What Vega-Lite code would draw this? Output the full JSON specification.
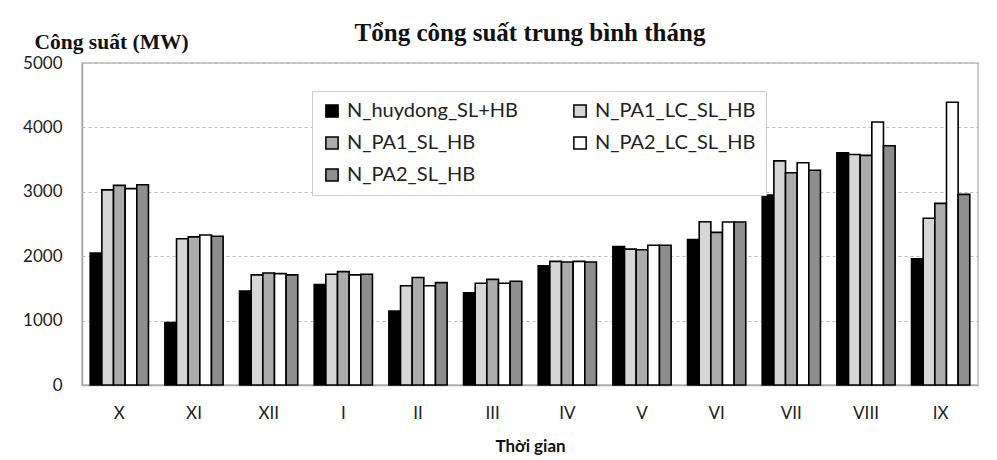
{
  "$schema": "https://vega.github.io/schema/vega-lite/v6.json",
  "width": 896,
  "height": 322,
  "autosize": {"type": "none"},
  "padding": {"left": 82, "top": 63, "right": 19, "bottom": 75},
  "background": "white",
  "title": {
    "text": "Tổng công suất trung bình tháng",
    "font": "Liberation Serif",
    "fontSize": 25,
    "fontWeight": "bold",
    "color": "#111",
    "anchor": "middle",
    "offset": -15
  },
  "data": {
    "values": [
      {"month": "X", "series": "N_huydong_SL+HB", "value": 2050},
      {"month": "X", "series": "N_PA1_LC_SL_HB", "value": 3030},
      {"month": "X", "series": "N_PA1_SL_HB", "value": 3100},
      {"month": "X", "series": "N_PA2_LC_SL_HB", "value": 3050},
      {"month": "X", "series": "N_PA2_SL_HB", "value": 3110},
      {"month": "XI", "series": "N_huydong_SL+HB", "value": 970},
      {"month": "XI", "series": "N_PA1_LC_SL_HB", "value": 2270},
      {"month": "XI", "series": "N_PA1_SL_HB", "value": 2300},
      {"month": "XI", "series": "N_PA2_LC_SL_HB", "value": 2330},
      {"month": "XI", "series": "N_PA2_SL_HB", "value": 2310},
      {"month": "XII", "series": "N_huydong_SL+HB", "value": 1460},
      {"month": "XII", "series": "N_PA1_LC_SL_HB", "value": 1710},
      {"month": "XII", "series": "N_PA1_SL_HB", "value": 1740},
      {"month": "XII", "series": "N_PA2_LC_SL_HB", "value": 1730},
      {"month": "XII", "series": "N_PA2_SL_HB", "value": 1710},
      {"month": "I", "series": "N_huydong_SL+HB", "value": 1560},
      {"month": "I", "series": "N_PA1_LC_SL_HB", "value": 1720},
      {"month": "I", "series": "N_PA1_SL_HB", "value": 1760},
      {"month": "I", "series": "N_PA2_LC_SL_HB", "value": 1710},
      {"month": "I", "series": "N_PA2_SL_HB", "value": 1720},
      {"month": "II", "series": "N_huydong_SL+HB", "value": 1150},
      {"month": "II", "series": "N_PA1_LC_SL_HB", "value": 1540},
      {"month": "II", "series": "N_PA1_SL_HB", "value": 1670},
      {"month": "II", "series": "N_PA2_LC_SL_HB", "value": 1540},
      {"month": "II", "series": "N_PA2_SL_HB", "value": 1590},
      {"month": "III", "series": "N_huydong_SL+HB", "value": 1430},
      {"month": "III", "series": "N_PA1_LC_SL_HB", "value": 1580},
      {"month": "III", "series": "N_PA1_SL_HB", "value": 1640},
      {"month": "III", "series": "N_PA2_LC_SL_HB", "value": 1580},
      {"month": "III", "series": "N_PA2_SL_HB", "value": 1610},
      {"month": "IV", "series": "N_huydong_SL+HB", "value": 1850},
      {"month": "IV", "series": "N_PA1_LC_SL_HB", "value": 1920},
      {"month": "IV", "series": "N_PA1_SL_HB", "value": 1910},
      {"month": "IV", "series": "N_PA2_LC_SL_HB", "value": 1920},
      {"month": "IV", "series": "N_PA2_SL_HB", "value": 1910},
      {"month": "V", "series": "N_huydong_SL+HB", "value": 2150},
      {"month": "V", "series": "N_PA1_LC_SL_HB", "value": 2110},
      {"month": "V", "series": "N_PA1_SL_HB", "value": 2100},
      {"month": "V", "series": "N_PA2_LC_SL_HB", "value": 2170},
      {"month": "V", "series": "N_PA2_SL_HB", "value": 2170},
      {"month": "VI", "series": "N_huydong_SL+HB", "value": 2260},
      {"month": "VI", "series": "N_PA1_LC_SL_HB", "value": 2535},
      {"month": "VI", "series": "N_PA1_SL_HB", "value": 2370},
      {"month": "VI", "series": "N_PA2_LC_SL_HB", "value": 2530},
      {"month": "VI", "series": "N_PA2_SL_HB", "value": 2530},
      {"month": "VII", "series": "N_huydong_SL+HB", "value": 2950},
      {"month": "VII", "series": "N_PA1_LC_SL_HB", "value": 3480},
      {"month": "VII", "series": "N_PA1_SL_HB", "value": 3295},
      {"month": "VII", "series": "N_PA2_LC_SL_HB", "value": 3450},
      {"month": "VII", "series": "N_PA2_SL_HB", "value": 3335},
      {"month": "VIII", "series": "N_huydong_SL+HB", "value": 3605},
      {"month": "VIII", "series": "N_PA1_LC_SL_HB", "value": 3580},
      {"month": "VIII", "series": "N_PA1_SL_HB", "value": 3565},
      {"month": "VIII", "series": "N_PA2_LC_SL_HB", "value": 4085},
      {"month": "VIII", "series": "N_PA2_SL_HB", "value": 3715},
      {"month": "IX", "series": "N_huydong_SL+HB", "value": 1960},
      {"month": "IX", "series": "N_PA1_LC_SL_HB", "value": 2590},
      {"month": "IX", "series": "N_PA1_SL_HB", "value": 2820},
      {"month": "IX", "series": "N_PA2_LC_SL_HB", "value": 4390},
      {"month": "IX", "series": "N_PA2_SL_HB", "value": 2960}
    ]
  },
  "mark": {"type": "bar", "stroke": "#000", "strokeWidth": 1.6},
  "encoding": {
    "x": {
      "field": "month",
      "type": "nominal",
      "sort": ["X", "XI", "XII", "I", "II", "III", "IV", "V", "VI", "VII", "VIII", "IX"],
      "scale": {"paddingInner": 0.22, "paddingOuter": 0.11},
      "axis": {
        "title": "Thời gian",
        "titleFont": "Lato",
        "titleFontSize": 17,
        "titleFontWeight": "bold",
        "titleColor": "#111",
        "titlePadding": 17,
        "labelAngle": 0,
        "labelFont": "Lato",
        "labelFontSize": 17,
        "labelColor": "#222",
        "labelPadding": 20,
        "ticks": false,
        "domainColor": "#aaa",
        "domainWidth": 1.5,
        "grid": false
      }
    },
    "xOffset": {
      "field": "series",
      "type": "nominal",
      "sort": ["N_huydong_SL+HB", "N_PA1_LC_SL_HB", "N_PA1_SL_HB", "N_PA2_LC_SL_HB", "N_PA2_SL_HB"]
    },
    "y": {
      "field": "value",
      "type": "quantitative",
      "scale": {"domain": [0, 5000], "nice": false},
      "axis": {
        "title": "Công suất (MW)",
        "titleFont": "Liberation Serif",
        "titleFontSize": 21.5,
        "titleFontWeight": "bold",
        "titleColor": "#111",
        "titleAngle": 0,
        "titleAlign": "left",
        "titleBaseline": "bottom",
        "titleX": -48,
        "titleY": -10,
        "values": [0, 1000, 2000, 3000, 4000, 5000],
        "format": "d",
        "labelFont": "Lato",
        "labelFontSize": 17,
        "labelColor": "#222",
        "labelPadding": 20,
        "ticks": false,
        "domainColor": "#aaa",
        "domainWidth": 1.5,
        "grid": true,
        "gridColor": "#bbb",
        "gridDash": [3, 3],
        "gridWidth": 1
      }
    },
    "fill": {
      "field": "series",
      "type": "nominal",
      "sort": ["N_huydong_SL+HB", "N_PA1_LC_SL_HB", "N_PA1_SL_HB", "N_PA2_LC_SL_HB", "N_PA2_SL_HB"],
      "scale": {"range": ["#000000", "#d6d6d6", "#acacac", "#ffffff", "#8e8e8e"]},
      "legend": {
        "title": null,
        "orient": "none",
        "legendX": 230,
        "legendY": 28,
        "direction": "horizontal",
        "columns": 2,
        "columnPadding": 52,
        "rowPadding": 12,
        "padding": 10,
        "fillColor": "white",
        "strokeColor": "#ccc",
        "symbolType": "square",
        "symbolSize": 150,
        "symbolStrokeColor": "#000",
        "symbolStrokeWidth": 1.5,
        "labelFont": "Lato",
        "labelFontSize": 20,
        "labelColor": "#222",
        "labelLimit": 300,
        "labelOffset": 5
      }
    }
  },
  "config": {
    "view": {"stroke": "#bbb", "strokeWidth": 1.5}
  }
}
